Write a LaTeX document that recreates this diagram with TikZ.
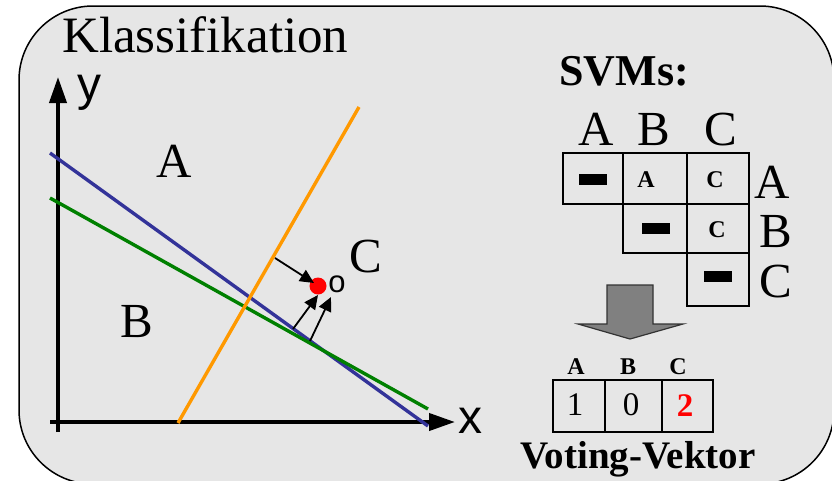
\documentclass[tikz,border=0pt]{standalone}
\usepackage{fontspec}
\setmainfont{Liberation Serif}
\setsansfont{Liberation Sans}
\usetikzlibrary{arrows.meta}
\definecolor{bg}{HTML}{E6E6E6}
\definecolor{svblue}{HTML}{333399}
\definecolor{svgreen}{HTML}{008000}
\definecolor{svorange}{HTML}{FF9900}
\definecolor{arrgray}{HTML}{808080}
\begin{document}
\begin{tikzpicture}[x=1pt,y=-1pt,
  big/.style={font=\fontsize{49}{49}\selectfont, inner sep=0pt, anchor=base},
  axislabel/.style={font=\sffamily\fontsize{48}{48}\selectfont, inner sep=0pt, anchor=base},
  axisline/.style={line width=4pt, -{Triangle[length=26pt,width=17pt]}},
  sepline/.style={line width=3.4pt},
  ptr/.style={line width=1.8pt, -{Triangle[length=14pt,width=13pt]}},
  cell/.style={draw, line width=1.8pt, inner sep=0pt},
  bar/.style={fill=black, minimum width=28pt, minimum height=11pt, inner sep=0pt},
  cellletter/.style={font=\bfseries\fontsize{24}{24}\selectfont, inner sep=0pt, anchor=base},
  vhead/.style={font=\bfseries\fontsize{24}{24}\selectfont, inner sep=0pt, anchor=base},
  vval/.style={font=\fontsize{33}{33}\selectfont, inner sep=0pt, anchor=base},
]
\useasboundingbox (0,0) rectangle (832,480);
\fill[white] (0,0) rectangle (832,480);
\draw[fill=bg, line width=1.5pt, rounded corners=74pt] (19,6) rectangle (834,484);

% title
\node[font=\fontsize{51}{51}\selectfont, inner sep=0pt, anchor=base west] (title) at (62,52) {Klassifikation};

% axes
\coordinate (yb) at (58,432);
\coordinate (yt) at (58,77);
\coordinate (xl) at (50,422);
\coordinate (xr) at (455,422);
\draw[axisline] (yb) -- (yt);
\draw[axisline] (xl) -- (xr);
\node[axislabel] (ylab) at (89,100) {y};
\node[axislabel] (xlab) at (470,433) {x};

% separating lines
\coordinate (b1) at (50,153);
\coordinate (b2) at (428,426);
\coordinate (g1) at (50,198);
\coordinate (g2) at (428,409);
\coordinate (o1) at (178,423);
\coordinate (o2) at (359,107);
\draw[sepline, svblue] (b1) -- (b2);
\draw[sepline, svgreen] (g1) -- (g2);
\draw[sepline, svorange] (o1) -- (o2);

% region labels
\node[big] (rA) at (174,177) {A};
\node[big] (rB) at (137,337) {B};
\node[big] (rC) at (366,272) {C};

% point
\node[circle, fill=red, minimum size=17pt, inner sep=0pt] (pt) at (318,286) {};
\node[font=\sffamily\fontsize{31}{31}\selectfont, inner sep=0pt, anchor=base] (plab) at (337,292) {o};

\coordinate (a1s) at (275,258);
\coordinate (a1e) at (314,283);
\coordinate (a2s) at (293,329);
\coordinate (a2e) at (318,295);
\coordinate (a3s) at (310,341);
\coordinate (a3e) at (331,297);
\draw[ptr] (a1s) -- (a1e);
\draw[ptr] (a2s) -- (a2e);
\draw[ptr] (a3s) -- (a3e);

% SVM table
\node[font=\bfseries\fontsize{44}{44}\selectfont, inner sep=0pt, anchor=base] (svm) at (624,85) {SVMs:};
\node[big] (hA) at (596,145) {A};
\node[big] (hB) at (654,145) {B};
\node[big] (hC) at (721,145) {C};

\node[cell, minimum width=60pt, minimum height=51pt] (c11) at (593,178.5) {};
\node[cell, minimum width=64pt, minimum height=51pt] (c12) at (655,178.5) {};
\node[cell, minimum width=62pt, minimum height=51pt] (c13) at (718,178.5) {};
\node[cell, minimum width=64pt, minimum height=49pt] (c22) at (655,228.5) {};
\node[cell, minimum width=62pt, minimum height=49pt] (c23) at (718,228.5) {};
\node[cell, minimum width=62pt, minimum height=53pt] (c33) at (718,279.5) {};

\node[bar] (d11) at (593,179.5) {};
\node[bar] (d22) at (655.5,228) {};
\node[bar] (d33) at (718,276.5) {};
\node[cellletter] (l12) at (646,187) {A};
\node[cellletter] (l13) at (715,187) {C};
\node[cellletter] (l23) at (717,237) {C};

\node[big] (vA) at (772,198) {A};
\node[big] (vB) at (776,247) {B};
\node[big] (vC) at (776,297) {C};

% block arrow
\draw[fill=arrgray, draw=black!80, line width=1.2pt]
  (607,285) -- (653,285) -- (653,324) -- (683,324) -- (630,339) -- (578,324) -- (607,324) -- cycle;

% voting vector
\node[vhead] (wA) at (576,374) {A};
\node[vhead] (wB) at (628,374) {B};
\node[vhead] (wC) at (678,374) {C};
\node[cell, minimum width=52pt, minimum height=52pt] (w1) at (579,406) {};
\node[cell, minimum width=57pt, minimum height=52pt] (w2) at (633.5,406) {};
\node[cell, minimum width=51pt, minimum height=52pt, line width=2.2pt] (w3) at (687.5,406) {};
\node[vval] (n1) at (575,415) {1};
\node[vval] (n2) at (631,415) {0};
\node[vval, font=\bfseries\fontsize{33}{33}\selectfont, text=red] (n3) at (685,416) {2};
\node[font=\bfseries\fontsize{39}{39}\selectfont, inner sep=0pt, anchor=base] (vv) at (638,468) {Voting-Vektor};
\end{tikzpicture}
\end{document}
